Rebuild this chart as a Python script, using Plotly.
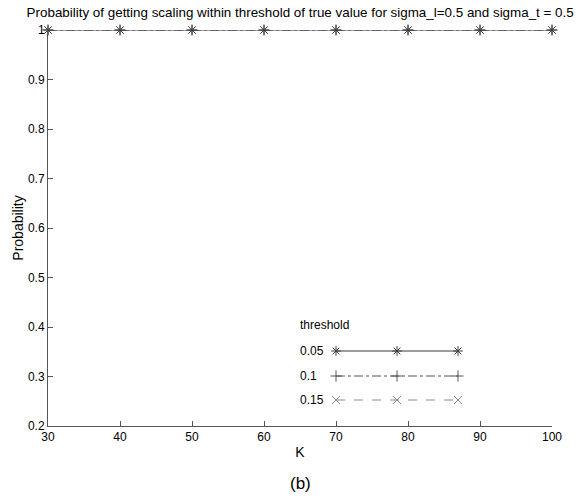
import plotly.graph_objects as go

K = [30, 40, 50, 60, 70, 80, 90, 100]
p_005 = [1, 1, 1, 1, 1, 1, 1, 1]
p_01 = [1, 1, 1, 1, 1, 1, 1, 1]
p_015 = [1, 1, 1, 1, 1, 1, 1, 1]
thresholds = ["0.05", "0.1", "0.15"]
y_ticks = [0.2, 0.3, 0.4, 0.5, 0.6, 0.7, 0.8, 0.9, 1.0]
x_ticks = [30, 40, 50, 60, 70, 80, 90, 100]

FONT = "Liberation Sans, Arial, sans-serif"
styles = [
    dict(color="#3a3a3a", dash="solid", symbol="asterisk-open"),
    dict(color="#555555", dash="dashdot", symbol="cross-thin-open"),
    dict(color="#8a8a8a", dash="dash", symbol="x-thin-open"),
]

fig = go.Figure()
for vals, st, name in reversed(list(zip([p_005, p_01, p_015], styles, thresholds))):
    fig.add_trace(go.Scatter(
        x=K, y=vals, mode="lines+markers", name=name, showlegend=False,
        line=dict(color=st["color"], width=1, dash=st["dash"]),
        marker=dict(symbol=st["symbol"], size=8, color=st["color"],
                    line=dict(width=1, color=st["color"])),
        cliponaxis=False,
    ))

# custom legend on an overlay axis measured in pixels of the plot area
leg_x0, leg_x1 = 336, 458
leg_rows = [351, 376, 400]
for st, name, yy in zip(styles, thresholds, leg_rows):
    fig.add_trace(go.Scatter(
        x=[leg_x0, (leg_x0 + leg_x1) / 2, leg_x1], y=[yy, yy, yy],
        xaxis="x2", yaxis="y2", mode="lines+markers", showlegend=False,
        line=dict(color=st["color"], width=1, dash=st["dash"]),
        marker=dict(symbol=st["symbol"], size=8, color=st["color"],
                    line=dict(width=1, color=st["color"])),
        hoverinfo="skip",
    ))
    fig.add_annotation(x=298, y=yy, xref="x2", yref="y2", text=name,
                       showarrow=False, xanchor="left", yanchor="middle",
                       font=dict(family=FONT, size=12, color="#000"))
fig.add_annotation(x=298, y=325, xref="x2", yref="y2", text="threshold",
                   showarrow=False, xanchor="left", yanchor="middle",
                   font=dict(family=FONT, size=12, color="#000"))

fig.add_annotation(x=0.5, y=-0.144, xref="paper", yref="paper", text="(b)",
                   showarrow=False, xanchor="center", yanchor="middle",
                   font=dict(family=FONT, size=17, color="#000"))

fig.update_layout(
    width=584, height=501,
    margin=dict(l=48, r=32, t=30, b=75),
    paper_bgcolor="white", plot_bgcolor="white",
    font=dict(family=FONT, size=12, color="#000"),
    title=dict(text="Probability of getting scaling within threshold of true value for sigma_l=0.5 and sigma_t = 0.5",
               x=0.514, xanchor="center", y=0.976, yanchor="middle",
               font=dict(family=FONT, size=13.4, color="#000"), automargin=False),
    xaxis=dict(range=[30, 100], tickvals=x_ticks, ticks="inside", ticklen=5,
               showline=True, linecolor="#555", linewidth=1, tickcolor="#555",
               showgrid=False, zeroline=False, automargin=False,
               title=dict(text="K", standoff=3),
               tickfont=dict(size=12)),
    yaxis=dict(range=[0.2, 1.0], tickvals=y_ticks, ticktext=[("%g" % v) for v in y_ticks],
               ticks="inside", ticklen=5,
               showline=True, linecolor="#555", linewidth=1, tickcolor="#555",
               showgrid=False, zeroline=False, automargin=False,
               title=dict(text="Probability", standoff=1),
               tickfont=dict(size=12)),
    xaxis2=dict(range=[48, 552], overlaying="x", visible=False, fixedrange=True),
    yaxis2=dict(range=[426, 30], overlaying="y", visible=False, fixedrange=True),
)

fig.write_html("out.html", config={"displayModeBar": False},
               post_script="document.body.style.margin='0';document.body.style.overflow='hidden';")
